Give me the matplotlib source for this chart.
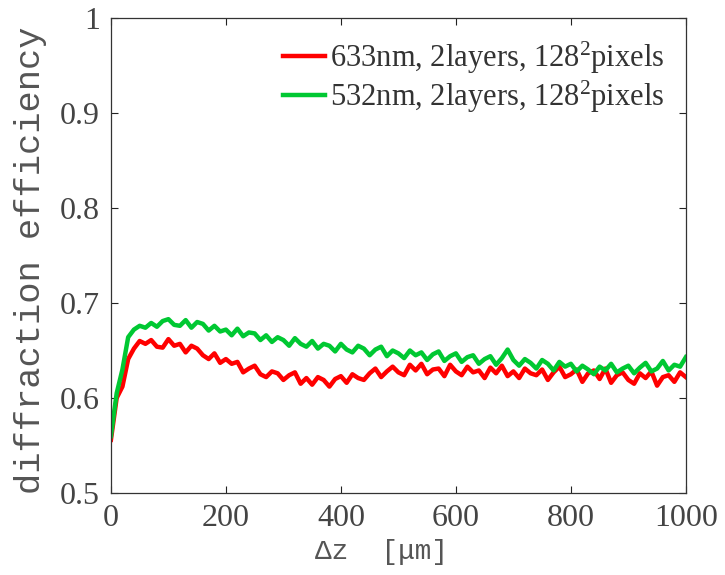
import matplotlib
matplotlib.use("Agg")
import matplotlib.pyplot as plt
import numpy as np

# delta z in um, one sample every 10 um
dz = list(range(0, 1001, 10))

eff633 = [
	0.556, 0.600, 0.612, 0.641, 0.652, 0.660, 0.657, 0.661, 0.654, 0.653,
	0.662, 0.655, 0.657, 0.648, 0.655, 0.652, 0.645, 0.641, 0.647, 0.637,
	0.641, 0.636, 0.638, 0.627, 0.631, 0.634, 0.625, 0.622, 0.628, 0.626,
	0.619, 0.624, 0.627, 0.615, 0.621, 0.614, 0.622, 0.619, 0.612, 0.620,
	0.623, 0.616, 0.625, 0.621, 0.619, 0.626, 0.631, 0.622, 0.628, 0.633,
	0.627, 0.624, 0.635, 0.629, 0.636, 0.625, 0.630, 0.631, 0.623, 0.635,
	0.628, 0.624, 0.633, 0.627, 0.629, 0.621, 0.632, 0.626, 0.634, 0.623,
	0.628, 0.621, 0.631, 0.626, 0.624, 0.630, 0.619, 0.627, 0.633, 0.622,
	0.625, 0.630, 0.617, 0.626, 0.629, 0.620, 0.631, 0.616, 0.624, 0.627,
	0.619, 0.615, 0.626, 0.621, 0.628, 0.613, 0.622, 0.624, 0.617, 0.627,
	0.622,
]

eff532 = [
	0.560, 0.605, 0.630, 0.664, 0.672, 0.676, 0.674, 0.679, 0.675, 0.681,
	0.683, 0.677, 0.676, 0.682, 0.674, 0.680, 0.678, 0.671, 0.676, 0.670,
	0.672, 0.666, 0.673, 0.665, 0.669, 0.668, 0.661, 0.666, 0.659, 0.664,
	0.661, 0.655, 0.663, 0.657, 0.654, 0.660, 0.652, 0.657, 0.655, 0.649,
	0.657, 0.651, 0.648, 0.655, 0.652, 0.645, 0.651, 0.654, 0.644, 0.650,
	0.647, 0.642, 0.650, 0.645, 0.648, 0.640, 0.646, 0.649, 0.639, 0.644,
	0.647, 0.638, 0.643, 0.645, 0.636, 0.641, 0.644, 0.635, 0.642, 0.651,
	0.640, 0.634, 0.641, 0.637, 0.631, 0.640, 0.636, 0.629, 0.638, 0.633,
	0.636, 0.628, 0.634, 0.630, 0.625, 0.633, 0.629, 0.636, 0.627, 0.631,
	0.634, 0.626, 0.632, 0.637, 0.628, 0.631, 0.639, 0.629, 0.635, 0.633,
	0.643,
]

labels = ["633nm, 2layers, 128$^2$pixels", "532nm, 2layers, 128$^2$pixels"]
colors = ["#ff0000", "#00c832"]

plt.rcParams["mathtext.fontset"] = "custom"
plt.rcParams["mathtext.rm"] = "Liberation Serif"
plt.rcParams["mathtext.it"] = "Liberation Serif"

fig = plt.figure(figsize=(7.25, 5.75), dpi=100)
ax = fig.add_axes([0.153, 0.1426, 0.793, 0.8261])

for y, lab, c in zip([eff633, eff532], labels, colors):
	ax.plot(dz, y, color=c, lw=3.2, label=lab)

ax.set_xlim(0, 1000)
ax.set_ylim(0.5, 1.0)
ax.set_xticks([0, 200, 400, 600, 800, 1000])
ax.set_yticks([0.5, 0.6, 0.7, 0.8, 0.9, 1.0])
ax.set_yticklabels(["0.5", "0.6", "0.7", "0.8", "0.9", "1"])

ax.tick_params(direction="in", length=5, width=0.8, top=True, right=True,
	labelsize=23, colors="#222222", pad=8)
for lbl in ax.get_xticklabels() + ax.get_yticklabels():
	lbl.set_family("Liberation Serif")
	lbl.set_color("#444444")
for sp in ax.spines.values():
	sp.set_color("#333333")
	sp.set_linewidth(0.9)

ax.set_xlabel("Δz  [μm]", family="Liberation Mono", fontsize=20, color="#555555")
ax.set_ylabel("diffraction efficiency", family="Liberation Mono", fontsize=25.5,
	color="#555555")
ax.xaxis.set_label_coords(0.47, -0.097)
ax.yaxis.set_label_coords(-0.112, 0.49)

leg = ax.legend(loc="upper right", frameon=False,
	prop={"family": "Liberation Serif", "size": 22},
	handlelength=1.4, handletextpad=0.15, labelspacing=0.1,
	borderaxespad=0.3)
for t in leg.get_texts():
	t.set_color("#333333")

fig.savefig("out.png", dpi=100)
